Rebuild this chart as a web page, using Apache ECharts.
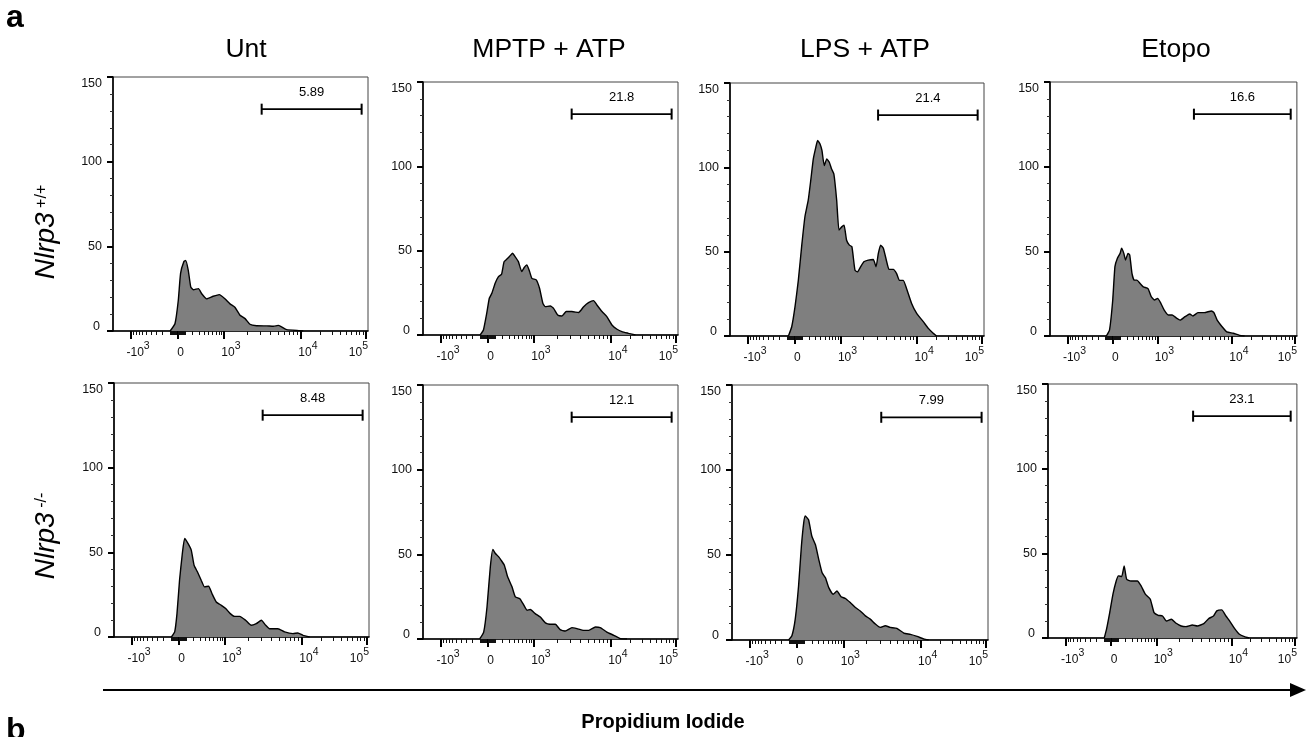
<!DOCTYPE html>
<html><head><meta charset="utf-8">
<script src="https://cdn.jsdelivr.net/npm/echarts@6.0.0/dist/echarts.min.js"></script>
<style>html,body{margin:0;padding:0;background:#fff}#c{width:1315px;height:737px}</style>
</head><body><div id="c"></div><script>
// ---------- DATA ----------
const treatments = ['Unt', 'MPTP + ATP', 'LPS + ATP', 'Etopo'];
const genotypes = [['Nlrp3', ' +/+'], ['Nlrp3', ' -/-']];
const gatePercentWT = ['5.89', '21.8', '21.4', '16.6'];
const gatePercentKO = ['8.48', '12.1', '7.99', '23.1'];
const gateChannels = [583, 975];            // gate bounds, display channel (0-1000)
const yTicks = [0, 50, 100, 150];
const majorIntensity = [-1000, 0, 1000, 10000, 100000];
const majorLabels = [['-10', '3'], ['0', ''], ['10', '3'], ['10', '4'], ['10', '5']];
const minorSteps = [1, 2, 3, 4, 5, 6, 7, 8, 9];
const minorDecadesNeg = [-100, -10];
const minorDecadesPos = [10, 100, 1000, 10000];

// histograms: [display channel (0-1000), count]
const wtUnt = [[224,0],[243,4.3],[256,18],[265,34],[278,41],[285,41.7],[295,36],[305,26],[315,24.4],[335,25],[348,22],[367,19],[393,20.5],[417,21.5],[439,19],[459,16],[478,14],[498,9.3],[518,7.3],[537,4],[563,3.1],[603,3],[629,2.8],[648,3.3],[661,2.4],[681,0.8],[733,0.2],[746,0]];
const wtMptp = [[224,0],[237,3],[250,12.9],[260,21.8],[270,24.7],[283,30.7],[296,34.6],[308,36],[318,43.5],[329,45],[339,46.5],[351,48.5],[361,46.5],[374,43.5],[387,37.6],[397,40],[407,41.6],[416,38.6],[427,33.6],[444,32.7],[457,27.7],[470,18.8],[479,16.8],[499,17.2],[512,15.8],[528,11.9],[545,11.3],[562,13.9],[584,13.9],[610,13.3],[630,16.8],[649,19.2],[669,20.4],[682,17.8],[702,13.9],[721,10.9],[741,5.9],[761,3.4],[780,2],[806,1],[833,0]];
const wtLps = [[230,0],[243,5.5],[256,17.4],[269,33],[282,53],[295,70.7],[308,80.5],[318,92.4],[328,105],[338,112],[345,116],[354,114],[362,110],[371,101],[381,105],[391,103],[400,99],[409,96],[420,80.5],[429,62.8],[440,64.7],[449,65.7],[459,56.8],[470,53.9],[480,52.9],[492,39],[502,38],[514,41],[527,44],[544,45],[564,45.4],[575,41],[584,49],[593,53.9],[604,51.9],[617,44],[626,39.5],[643,39.5],[656,37],[667,33],[682,33],[695,28.2],[715,19.3],[735,13.4],[761,8.5],[781,4.5],[800,1.6],[813,0]];
const wtEtopo = [[228,0],[241,3.5],[254,21],[263,41],[273,45.9],[284,48.8],[290,51.8],[299,48.8],[306,44.9],[316,48.8],[323,47.8],[332,37],[341,33],[352,33],[365,31],[378,29],[397,28],[410,23.2],[423,21.3],[436,22.2],[449,19.3],[462,15.4],[479,12.4],[495,12.4],[514,10.4],[527,9.4],[547,11.4],[566,13],[579,11.8],[599,13.8],[625,13.8],[654,14.8],[664,13.8],[677,9.4],[697,5.5],[716,2.4],[742,1.6],[768,0.4],[788,0]];
const koUnt = [[225,0],[238,3],[247,13.8],[257,33.5],[268,49.3],[277,58.2],[290,55.3],[303,51.3],[314,42.4],[327,38.5],[342,33.5],[355,29.6],[371,30],[384,25.7],[401,20.7],[421,18.7],[438,16.8],[456,13.8],[473,12.2],[493,12.2],[516,9.9],[538,6.9],[558,7.9],[578,9.9],[595,6.9],[610,4.9],[643,4.9],[669,3],[702,2],[721,2.4],[741,1],[767,0]];
const koMptp = [[222,0],[238,4.1],[251,18.9],[264,42.6],[274,52.9],[284,50.5],[297,48.5],[306,46.6],[319,43.6],[332,36.7],[349,30.8],[362,24.9],[379,23.9],[392,20.9],[408,17],[421,17.4],[440,15],[460,13],[480,9.5],[499,8.7],[519,8.7],[538,5.5],[558,4.7],[584,6.7],[604,6.1],[630,5.1],[650,5.1],[676,7.1],[695,6.7],[721,4.1],[748,2.2],[774,0.2],[800,0]];
const koLps = [[221,0],[234,2.5],[247,12.3],[260,31.8],[271,55],[280,68.8],[286,73],[299,70.7],[312,61],[326,56],[339,47.3],[352,39.5],[365,36.6],[378,30.8],[395,26.9],[410,28.8],[426,25.5],[443,24.4],[462,22],[482,19.1],[501,17.1],[521,14.2],[540,12.3],[560,9.4],[579,7.4],[599,8.4],[618,7.4],[644,6.8],[671,4.1],[697,3.3],[723,2.1],[749,0.6],[768,0]];
const koEtopo = [[226,0],[235,5.1],[248,15],[261,25.9],[274,33.7],[283,36.7],[296,36.3],[306,42.6],[316,34.7],[333,33.7],[359,33.7],[374,30.8],[391,25.9],[411,22.9],[426,15],[443,13.4],[460,13],[476,10],[496,11.1],[515,8.7],[535,7.1],[554,6.7],[580,7.7],[600,7.1],[626,8.5],[645,11.4],[665,13],[678,16],[698,16.6],[715,13],[734,9.1],[750,5.5],[769,2.2],[789,0.8],[808,0]];

const histograms = [[wtUnt, wtMptp, wtLps, wtEtopo], [koUnt, koMptp, koLps, koEtopo]];
const gatePercents = [gatePercentWT, gatePercentKO];

// ---------- SCALE (biexponential display) ----------
function T(v) {
  const W = 300, Z = 253, S = 182, A = Math.asinh(1000 / W);
  if (v >= -1000 && v <= 1000) return Z + Math.sign(v) * S * Math.asinh(Math.abs(v) / W) / A;
  if (v <= 1e4) return 435 + 302 * Math.log10(v / 1e3);
  return 737 + 255 * Math.log10(v / 1e4);
}
const minorIntensity = [];
minorDecadesNeg.forEach(d => minorSteps.forEach(s => { if (s > 1 || d === -10) minorIntensity.push(d * s); }));
minorDecadesPos.forEach(d => minorSteps.forEach(s => { if (s > 1 || d === 10 || d === 100) minorIntensity.push(d * s); }));
const majorPos = majorIntensity.map(T);
const minorPos = minorIntensity.filter(v => majorIntensity.indexOf(v) < 0).map(T);

// ---------- LAYOUT ----------
const FONT = '"Liberation Sans", Arial, Helvetica, sans-serif';
const boxes = [
  [113, 77, 255, 254], [423, 82, 255, 253], [730, 83, 254, 253], [1050, 82, 256, 254],
  [114, 383, 255, 254], [423, 385, 255, 254], [732, 385, 256, 255], [1048, 384, 256, 254]
];
const titleX = [246, 549, 865, 1176];
const GATE_Y = 131;

const grids = [], xAxes = [], yAxes = [], series = [];
const xRich = {
  b:  {fontFamily: FONT, fontSize: 12, color: '#111', lineHeight: 18, verticalAlign: 'bottom'},
  bA: {fontFamily: FONT, fontSize: 12, color: '#111', lineHeight: 18, verticalAlign: 'bottom', padding: [0, 0, 0, 14]},
  bZ: {fontFamily: FONT, fontSize: 12, color: '#111', lineHeight: 18, verticalAlign: 'bottom', padding: [0, 0, 0, 6]},
  s:  {fontFamily: FONT, fontSize: 10.5, color: '#111', lineHeight: 10, verticalAlign: 'top'},
  sR: {fontFamily: FONT, fontSize: 10.5, color: '#111', lineHeight: 10, verticalAlign: 'top', padding: [0, 15, 0, 0]}
};
function xFormatter(val) {
  let i = 0, best = 1e9;
  majorPos.forEach((p, k) => { const d = Math.abs(p - val); if (d < best) { best = d; i = k; } });
  const [base, sup] = majorLabels[i];
  if (!sup) return '{bZ|' + base + '}';
  if (i === majorLabels.length - 1) return '{b|' + base + '}{sR|' + sup + '}';
  return '{bA|' + base + '}{s|' + sup + '}';
}
const yRich = {
  n: {fontFamily: FONT, fontSize: 12.5, color: '#111'},
  t: {fontFamily: FONT, fontSize: 12.5, color: '#111', padding: [14, 0, 0, 0]},
  z: {fontFamily: FONT, fontSize: 12.5, color: '#111', padding: [0, 2, 9, 0]}
};

for (let r = 0; r < 2; r++) {
  for (let c = 0; c < 4; c++) {
    const i = r * 4 + c;
    const [l, t, w, h] = boxes[i];
    grids.push({left: l, top: t, width: w, height: h, show: true, borderColor: '#444', borderWidth: 1, backgroundColor: 'transparent'});
    xAxes.push({
      type: 'value', gridIndex: i, min: 0, max: 1000, position: 'bottom',
      axisLine: {show: true, onZero: false, lineStyle: {color: '#000', width: 1.6}},
      axisTick: {show: true, customValues: majorPos, length: 8, lineStyle: {color: '#000', width: 2}},
      axisLabel: {show: true, customValues: majorPos, margin: 10, formatter: xFormatter, rich: xRich},
      splitLine: {show: false}
    });
    xAxes.push({
      type: 'value', gridIndex: i, min: 0, max: 1000, position: 'bottom',
      axisLine: {show: false},
      axisTick: {show: true, customValues: minorPos, length: 4, lineStyle: {color: '#111', width: 1}},
      axisLabel: {show: false},
      splitLine: {show: false}
    });
    yAxes.push({
      type: 'value', gridIndex: i, min: yTicks[0], max: yTicks[yTicks.length - 1], interval: yTicks[1] - yTicks[0],
      axisLine: {show: true, onZero: false, lineStyle: {color: '#000', width: 1.6}},
      axisTick: {show: true, length: 6, lineStyle: {color: '#000', width: 2}},
      minorTick: {show: true, splitNumber: 5, length: 3, lineStyle: {color: '#333', width: 1}},
      axisLabel: {margin: 11, rich: yRich, formatter: v => v === 150 ? '{t|150}' : (v === 0 ? '{z|0}' : '{n|' + v + '}')},
      splitLine: {show: false}
    });
    series.push({
      type: 'line', xAxisIndex: 2 * i, yAxisIndex: i, data: histograms[r][c],
      symbol: 'none', smooth: 0.15, z: 3,
      lineStyle: {color: '#000', width: 1.4},
      areaStyle: {color: '#7f7f7f', opacity: 1}
    });
    series.push({
      type: 'line', xAxisIndex: 2 * i, yAxisIndex: i, z: 4,
      symbol: 'rect', symbolSize: [2, 11], showSymbol: true, showAllSymbol: true,
      itemStyle: {color: '#000'}, lineStyle: {color: '#000', width: 1.8},
      data: [[gateChannels[0], GATE_Y], [gateChannels[1], GATE_Y]]
    });
    series.push({
      type: 'scatter', xAxisIndex: 2 * i, yAxisIndex: i, z: 5,
      symbolSize: 0, itemStyle: {color: '#000', opacity: 1},
      data: [[(gateChannels[0] + gateChannels[1]) / 2, GATE_Y]],
      label: {show: true, position: 'top', distance: 10, formatter: gatePercents[r][c],
              fontFamily: FONT, fontSize: 13, color: '#000', opacity: 1}
    });
  }
}

const graphics = [];
const tstyle = (text, font, x, y, align) => ({type: 'text', x: x, y: y, style: {text: text, font: font, fill: '#000', align: align, textAlign: align, verticalAlign: 'middle', textVerticalAlign: 'middle'}});
graphics.push(tstyle('a', 'bold 32px ' + FONT, 6, 18, 'left'));
graphics.push(tstyle('b', 'bold 32px ' + FONT, 6, 731, 'left'));
treatments.forEach((tx, c) => graphics.push(tstyle(tx, '26.5px ' + FONT, titleX[c], 50, 'center')));
const rowCenters = [232, 536];
genotypes.forEach((g, r) => {
  graphics.push({
    type: 'text', x: 47, y: rowCenters[r], rotation: Math.PI / 2,
    style: {
      text: '{i|' + g[0] + '}{s|' + g[1] + '}',
      rich: {
        i: {fontFamily: FONT, fontStyle: 'italic', fontSize: 28, lineHeight: 27, verticalAlign: 'bottom', fill: '#000', color: '#000'},
        s: {fontFamily: FONT, fontSize: 16, lineHeight: 18, verticalAlign: 'top', fill: '#000', color: '#000'}
      },
      align: 'center', textAlign: 'center', verticalAlign: 'middle', textVerticalAlign: 'middle'
    }
  });
});
graphics.push({type: 'line', shape: {x1: 103, y1: 690, x2: 1293, y2: 690}, style: {stroke: '#000', lineWidth: 2}});
graphics.push({type: 'polygon', shape: {points: [[1290, 683], [1306, 690], [1290, 697]]}, style: {fill: '#000'}});
graphics.push(tstyle('Propidium Iodide', 'bold 20px ' + FONT, 663, 722, 'center'));

const chart = echarts.init(document.getElementById('c'), null, {renderer: 'canvas'});
chart.setOption({
  animation: false,
  backgroundColor: '#fff',
  grid: grids, xAxis: xAxes, yAxis: yAxes, series: series,
  graphic: {elements: graphics}
});
</script></body></html>
